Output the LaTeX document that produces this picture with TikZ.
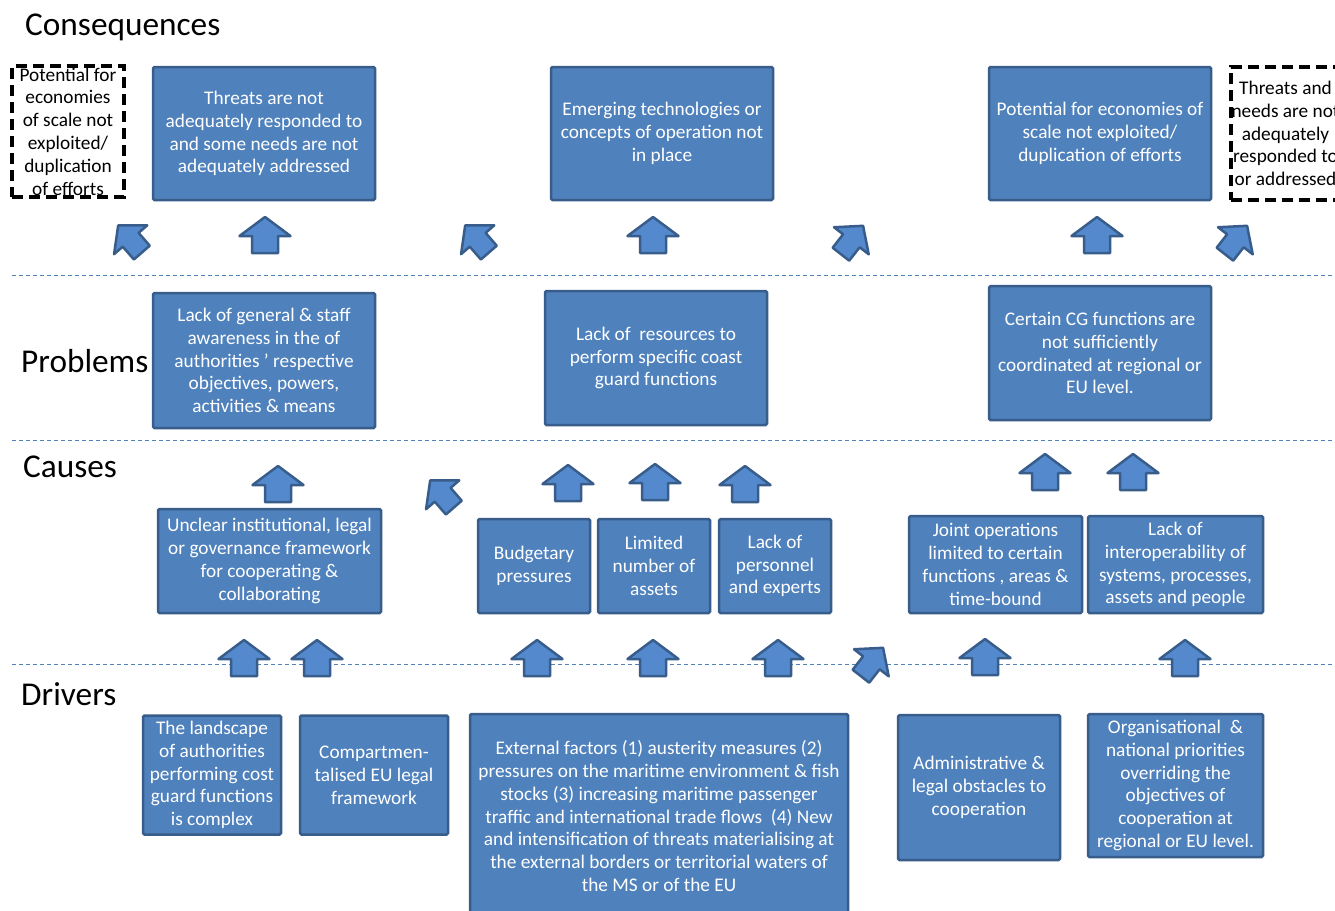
\documentclass[tikz,border=0pt]{standalone}
\usepackage{fontspec}
\setmainfont{Carlito}
\definecolor{boxfill}{RGB}{79,129,189}
\definecolor{boxline}{RGB}{56,93,138}
\definecolor{arrfill}{RGB}{84,138,205}
\definecolor{sepline}{RGB}{79,129,189}
\tikzset{
  box/.style={draw=boxline, fill=boxfill, line width=2.5pt, rounded corners=1.5pt, text=white, align=center, inner sep=0pt, font=\fontsize{19.3}{22.8}\selectfont},
  dbox/.style={draw=black, dash pattern=on 11pt off 6pt, line width=3.5pt, text=black, align=center, inner sep=0pt, font=\fontsize{19.3}{22.8}\selectfont},
  heading/.style={anchor=west, inner sep=0pt, font=\fontsize{33.3}{40}\selectfont},
  sepl/.style={draw=sepline, line width=1pt, dash pattern=on 4pt off 3pt},
  arr/.style={draw=boxline, fill=arrfill, line width=2.5pt, line join=round},
  uparrow/.pic={\path[arr] (0,-18) -- (25.5,1) -- (13,1) -- (13,18) -- (-13,18) -- (-13,1) -- (-25.5,1) -- cycle;},
  diagarrow/.pic={\path[arr] (0,-18) -- (22,1) -- (10.5,1) -- (10.5,18) -- (-10.5,18) -- (-10.5,1) -- (-22,1) -- cycle;}
}
\begin{document}
\begin{tikzpicture}[x=1pt,y=-1pt]
\useasboundingbox (0,0) rectangle (1335,910);
\clip (0,0) rectangle (1335,910);
\fill[white] (0,0) rectangle (1335,910);

% separators
\coordinate (s1a) at (12,275); \coordinate (s1b) at (1335,275);
\coordinate (s2a) at (12,440); \coordinate (s2b) at (1335,440);
\coordinate (s3a) at (12,664); \coordinate (s3b) at (1335,664);
\draw[sepl] (s1a) -- (s1b);
\draw[sepl] (s2a) -- (s2b);
\draw[sepl] (s3a) -- (s3b);

% headings
\node[heading] (hcon) at (25,27) {Consequences};
\node[heading] (hpro) at (21,361) {Problems};
\node[heading] (hcau) at (23,467) {Causes};
\node[heading] (hdri) at (21,694) {Drivers};

% consequences
\node[dbox, minimum width=112pt, minimum height=131pt] (cq0) at (68,131.5) {Potential for\\economies\\of scale not\\exploited/\\duplication\\of efforts};
\node[box, minimum width=222pt, minimum height=133pt] (c1) at (264,133.5) {Threats are not\\adequately responded to\\and some needs are not\\adequately addressed};
\node[box, minimum width=222pt, minimum height=133pt] (c2) at (662,133.5) {Emerging technologies or\\concepts of operation not\\in place};
\node[box, minimum width=222pt, minimum height=133pt] (c3) at (1100,133.5) {Potential for economies of\\scale not exploited/\\duplication of efforts};
\node[dbox, minimum width=109pt, minimum height=133pt] (cq4) at (1285.5,133.5) {Threats and\\needs are not\\adequately\\responded to\\or addressed};

% problems
\node[box, minimum width=222pt, minimum height=135pt] (p1) at (264,360.5) {Lack of general \& staff\\awareness in the of\\authorities ' respective\\objectives, powers,\\activities \& means};
\node[box, minimum width=222pt, minimum height=134pt] (p2) at (656,358) {Lack of \ resources to\\perform specific coast\\guard functions};
\node[box, minimum width=222pt, minimum height=134pt] (p3) at (1100,353) {Certain CG functions are\\not sufficiently\\coordinated at regional or\\EU level.};

% causes
\node[box, minimum width=223pt, minimum height=104pt] (ca1) at (269.5,561) {Unclear institutional, legal\\or governance framework\\for cooperating \&\\collaborating};
\node[box, minimum width=112pt, minimum height=94pt] (ca2) at (534,566) {Budgetary\\pressures};
\node[box, minimum width=112pt, minimum height=94pt] (ca3) at (654,566) {Limited\\number of\\assets};
\node[box, minimum width=112pt, minimum height=94pt] (ca4) at (775,566) {Lack of\\personnel\\and experts};
\node[box, minimum width=173pt, minimum height=97pt] (ca5) at (995.5,564.5) {Joint operations\\limited to certain\\functions , areas \&\\time-bound};
\node[box, minimum width=175pt, minimum height=97pt] (ca6) at (1175.5,564.5) {Lack of\\interoperability of\\systems, processes,\\assets and people};

% drivers
\node[box, minimum width=138pt, minimum height=119pt] (d1) at (212,775) {The landscape\\of authorities\\performing cost\\guard functions\\is complex};
\node[box, minimum width=148pt, minimum height=119pt] (d2) at (374,775) {Compartmen-\\talised EU legal\\framework};
\node[box, minimum width=378pt, minimum height=204pt] (d3) at (659,816) {External factors (1) austerity measures (2)\\pressures on the maritime environment \& fish\\stocks (3) increasing maritime passenger\\traffic and international trade flows \ (4) New\\and intensification of threats materialising at\\the external borders or territorial waters of\\the MS or of the EU};
\node[box, minimum width=162pt, minimum height=145pt] (d4) at (979,787.5) {Administrative \&\\legal obstacles to\\cooperation};
\node[box, minimum width=175pt, minimum height=143pt] (d5) at (1175.5,785.5) {Organisational \ \&\\national priorities\\overriding the\\objectives of\\cooperation at\\regional or EU level.};

% arrows problems -> consequences
\pic[rotate=41] at (130,239) {diagarrow};
\pic at (265,235) {uparrow};
\pic[rotate=41] at (477,239) {diagarrow};
\pic at (653,235) {uparrow};
\pic[rotate=-38] at (852,240) {diagarrow};
\pic at (1097,235) {uparrow};
\pic[rotate=-38] at (1236,240) {diagarrow};

% arrows causes -> problems
\pic at (278,484) {uparrow};
\pic[rotate=41] at (442,494) {diagarrow};
\pic at (568,483) {uparrow};
\pic at (655,482) {uparrow};
\pic at (745,484) {uparrow};
\pic at (1045,472) {uparrow};
\pic at (1133,472) {uparrow};

% arrows drivers -> causes
\pic at (244,658) {uparrow};
\pic at (317,658) {uparrow};
\pic at (537,658) {uparrow};
\pic at (653,658) {uparrow};
\pic at (778,658) {uparrow};
\pic[rotate=-38] at (872,662) {diagarrow};
\pic at (985,657) {uparrow};
\pic at (1185,658) {uparrow};
\end{tikzpicture}
\end{document}
